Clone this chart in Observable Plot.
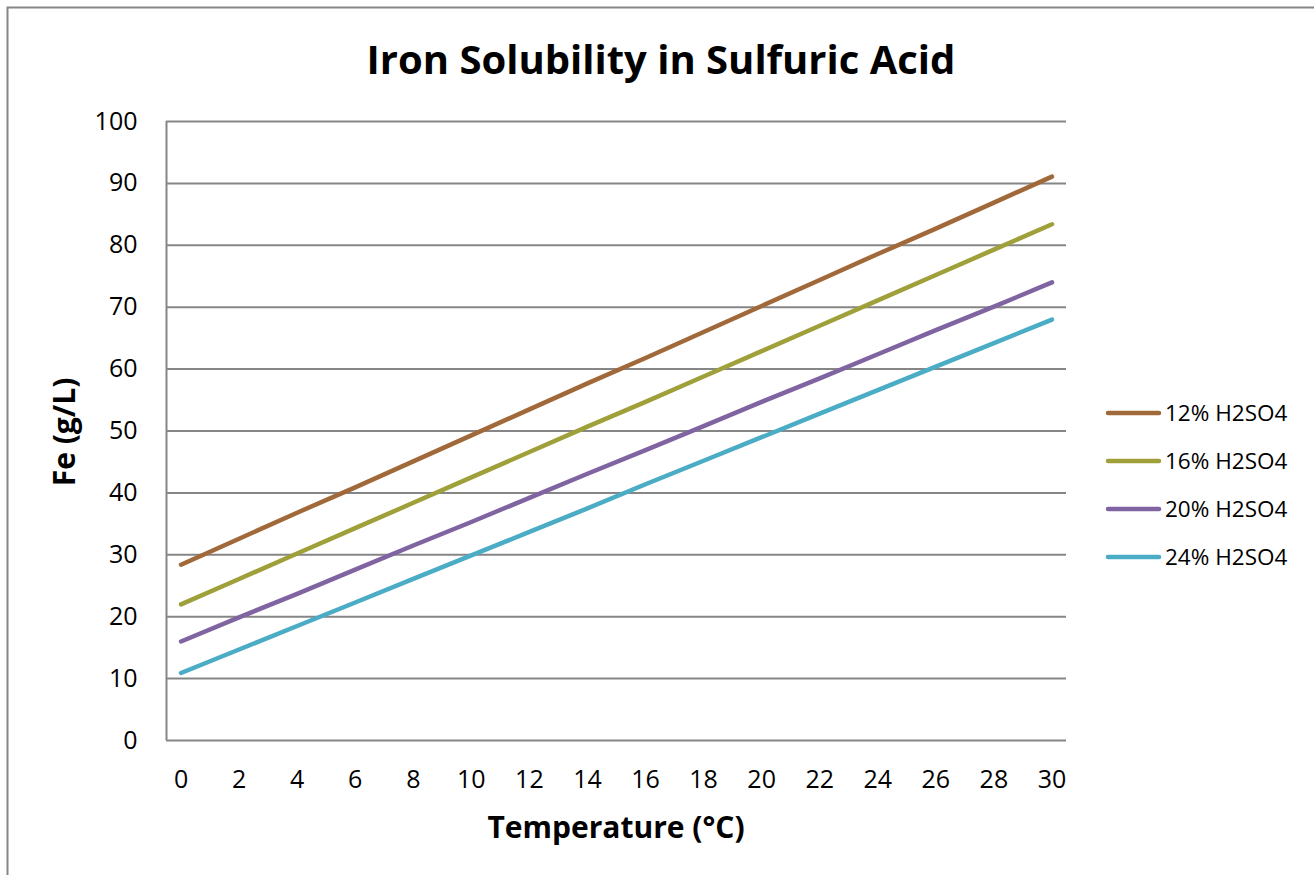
<!DOCTYPE html>
<html>
<head>
<meta charset="utf-8">
<script src="https://cdn.jsdelivr.net/npm/d3@7"></script>
<script src="https://cdn.jsdelivr.net/npm/@observablehq/plot@0.6"></script>
<style>
  html, body { margin: 0; padding: 0; background: #fff; }
  #chart { position: relative; width: 1314px; height: 875px; overflow: hidden; }
</style>
</head>
<body>
<div id="chart"></div>
<script>
const title = "Iron Solubility in Sulfuric Acid";
const xTitle = "Temperature (°C)";
const yTitle = "Fe (g/L)";
const temperatures = [0, 2, 4, 6, 8, 10, 12, 14, 16, 18, 20, 22, 24, 26, 28, 30];
const seriesNames = ["12% H2SO4", "16% H2SO4", "20% H2SO4", "24% H2SO4"];
const seriesColors = ["#a1693a", "#9fa03a", "#8064a2", "#4bacc6"];
const fe12 = [28.4, 32.6, 36.8, 40.9, 45.1, 49.3, 53.5, 57.7, 61.8, 66.0, 70.2, 74.4, 78.6, 82.7, 86.9, 91.1];
const fe16 = [22.0, 26.1, 30.2, 34.3, 38.4, 42.5, 46.6, 50.7, 54.7, 58.8, 62.9, 67.0, 71.1, 75.2, 79.3, 83.4];
const fe20 = [16.0, 19.9, 23.7, 27.6, 31.5, 35.3, 39.2, 43.1, 46.9, 50.8, 54.7, 58.5, 62.4, 66.3, 70.1, 74.0];
const fe24 = [10.9, 14.7, 18.5, 22.3, 26.1, 29.9, 33.7, 37.5, 41.4, 45.2, 49.0, 52.8, 56.6, 60.4, 64.2, 68.0];
const yTicks = [0, 10, 20, 30, 40, 50, 60, 70, 80, 90, 100];
const xTicks = temperatures;

const allSeries = [fe12, fe16, fe20, fe24];
const data = [];
allSeries.forEach((vals, si) => {
  vals.forEach((v, i) => data.push({series: seriesNames[si], t: temperatures[i], fe: v}));
});

const W = 1314, H = 875;
const mLeft = 166, mRight = 248, mTop = 121, mBottom = 135;
const gray = "#868686";
const font = "'Open Sans', sans-serif";

const chart = Plot.plot({
  width: W,
  height: H,
  marginLeft: mLeft,
  marginRight: mRight,
  marginTop: mTop,
  marginBottom: mBottom,
  style: {fontFamily: font, fontSize: "25px", color: "#000", background: "#fff", overflow: "visible"},
  x: {domain: [-0.5, 30.5], label: null},
  y: {domain: [0, 100], label: null},
  color: {domain: seriesNames, range: seriesColors},
  marks: [
    Plot.ruleY(yTicks.filter(d => d > 0), {stroke: gray, strokeWidth: 2, strokeOpacity: 1}),
    Plot.ruleX([-0.5], {stroke: gray, strokeWidth: 2}),
    Plot.ruleY([0], {stroke: gray, strokeWidth: 2}),
    Plot.axisY({ticks: yTicks, tickSize: 0, tickPadding: 29, tickFormat: d => String(d), label: null, fontSize: 25}),
    Plot.axisX({ticks: xTicks, tickSize: 0, tickPadding: 30, tickFormat: d => String(d), label: null, fontSize: 25}),
    Plot.line(data, {x: "t", y: "fe", z: "series", stroke: "series", strokeWidth: 4.5, strokeLinecap: "round", strokeLinejoin: "round"})
  ]
});

document.getElementById("chart").appendChild(chart);

const svg = d3.select(chart);
// outer border
svg.insert("rect", ":first-child")
  .attr("x", 7.5).attr("y", 7.5).attr("width", W + 20).attr("height", H + 20)
  .attr("fill", "#fff").attr("stroke", gray).attr("stroke-width", 2);

svg.append("text")
  .attr("x", 661).attr("y", 74)
  .attr("text-anchor", "middle")
  .attr("font-family", font).attr("font-weight", "bold").attr("font-size", 40)
  .attr("fill", "#000")
  .text(title);

svg.append("text")
  .attr("x", 616).attr("y", 838)
  .attr("text-anchor", "middle")
  .attr("font-family", font).attr("font-weight", "bold").attr("font-size", 30)
  .attr("fill", "#000")
  .text(xTitle);

svg.append("text")
  .attr("transform", "translate(75,432) rotate(-90)")
  .attr("text-anchor", "middle")
  .attr("font-family", font).attr("font-weight", "bold").attr("font-size", 30)
  .attr("fill", "#000")
  .text(yTitle);

// legend
const legend = svg.append("g");
seriesNames.forEach((name, i) => {
  const y = 413 + i * 48;
  legend.append("line")
    .attr("x1", 1108).attr("x2", 1159).attr("y1", y).attr("y2", y)
    .attr("stroke", seriesColors[i]).attr("stroke-width", 4.5).attr("stroke-linecap", "round");
  legend.append("text")
    .attr("x", 1165).attr("y", y).attr("dy", "0.36em")
    .attr("text-anchor", "start")
    .attr("font-family", font).attr("font-size", 22.5).attr("fill", "#000")
    .text(name);
});
</script>
</body>
</html>
